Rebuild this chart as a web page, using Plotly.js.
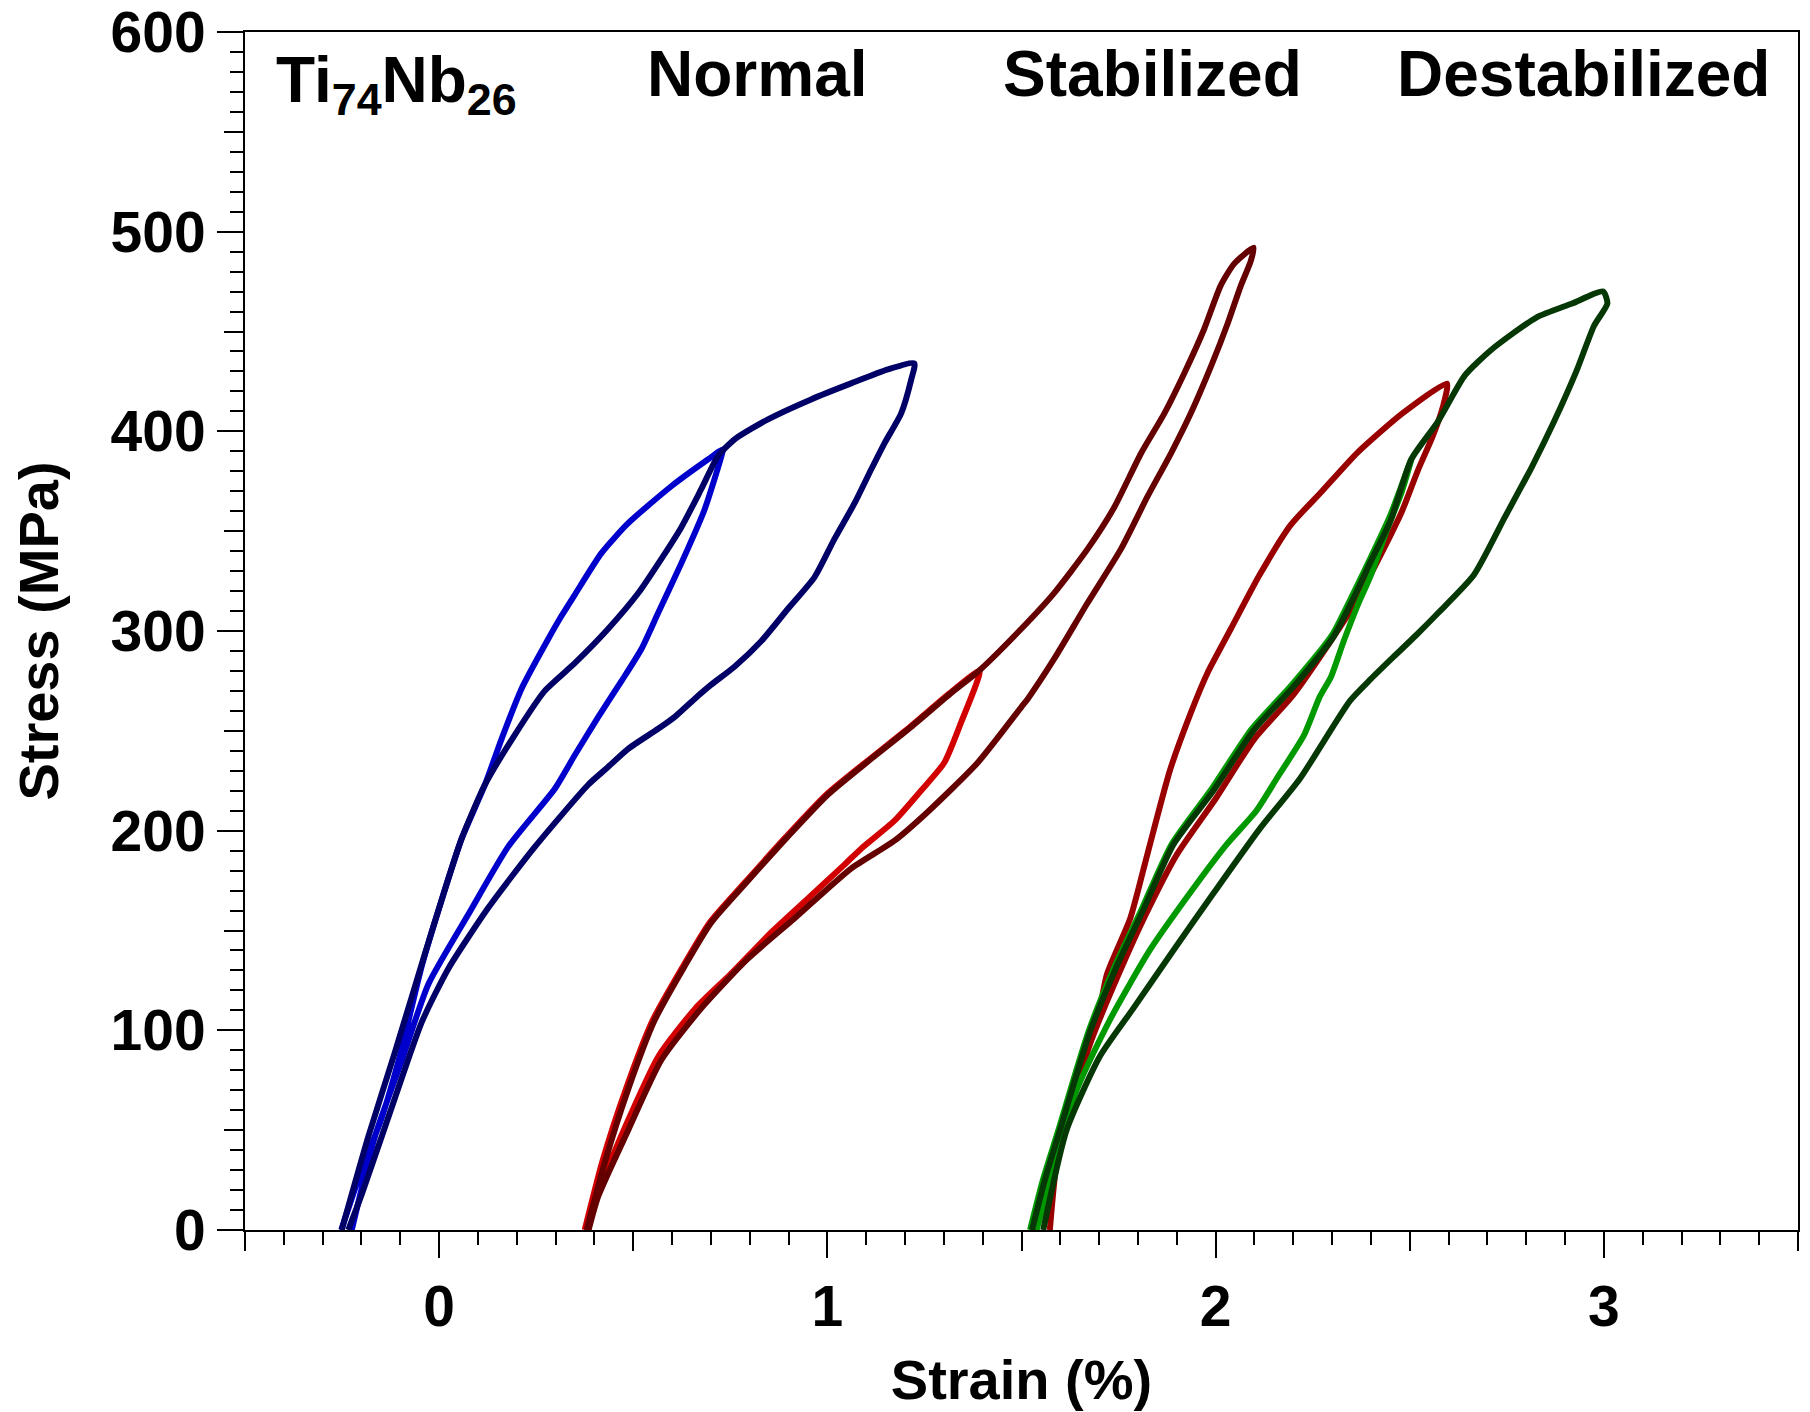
<!DOCTYPE html>
<html>
<head>
<meta charset="utf-8">
<script src="https://cdn.plot.ly/plotly-3.0.1.min.js"></script>
<style>html,body{margin:0;padding:0;background:#fff;}#chart{width:1810px;height:1412px;}</style>
</head>
<body>
<div id="chart"></div>
<script>
// ---- Data (strain %, stress MPa) ----
// Normal, small loop (bright blue)
const normalSmallX = [-0.252,-0.20,-0.15,-0.10,-0.045,0.006,0.058,0.118,0.161,0.212,0.281,0.315,0.349,0.418,0.487,0.598,0.693,0.731,
  0.727,0.684,0.624,0.564,0.521,0.47,0.41,0.35,0.298,0.178,0.075,-0.028,-0.096,-0.165,-0.225];
const normalSmallY = [0,30,55,88,132,165,196,223,246,271,296,307.5,318,339,354,372.5,386,391,
  387.5,361,334,309,291,275,257,238,221,192,158,123,85,47,0];
// Normal, large loop (navy)
const normalLargeX = [-0.251,-0.182,-0.114,-0.045,0.006,0.058,0.118,0.195,0.272,0.35,0.435,0.513,0.572,0.624,0.675,0.718,0.761,0.847,0.958,1.061,1.156,1.224,
  1.216,1.19,1.147,1.113,1.07,1.018,0.967,0.898,0.83,0.76,0.70,0.658,0.607,0.564,0.487,0.43,0.384,0.247,0.127,0.024,-0.045,-0.114,-0.199,-0.234];
const normalLargeY = [0,47,89,133,165,196,223,248,270,284,301,319,336,352,371,387.5,396,406,416,424,431,434,
  426,409,394,381,364,346,327,311,295,282,273,266,257,251,241,231,223,192,161.5,131,104,66,18,0];
// Stabilized, small loop (bright red)
const stabSmallX = [0.375,0.42,0.48,0.55,0.628,0.697,0.792,0.894,0.997,1.11,1.213,1.316,1.392,
  1.344,1.301,1.241,1.173,1.087,1.044,0.95,0.85,0.75,0.66,0.565,0.48,0.405,0.38];
const stabSmallY = [0,34,70,105,132,154,175,197,218,236,252,269,280,
  254,234,220,205,191,183,166,148,128,111,87,52,17,0];
// Stabilized, large loop (dark red)
const stabLargeX = [0.38,0.427,0.487,0.555,0.632,0.701,0.796,0.898,1.001,1.113,1.216,1.319,1.39,1.499,1.584,1.67,1.739,1.808,1.868,1.919,1.97,2.013,2.048,2.098,
  2.09,2.065,2.031,1.988,1.936,1.885,1.825,1.756,1.67,1.584,1.516,1.50,1.387,1.259,1.173,1.061,0.915,0.796,0.675,0.572,0.487,0.41,0.385];
const stabLargeY = [0,34,70.5,105,132,154,175,197,218,236,252,269,280,301,319,341,362,389,409,429,451,473,484,492,
  485,473,454,432.5,409,389,367.5,341,314,286,266,262,234,209.5,195,181,156,136,111,85,50,17,0];
// Destabilized, red loop
const destabRedX = [1.53,1.60,1.66,1.69,1.72,1.78,1.82,1.882,1.936,1.979,2.039,2.113,2.193,2.274,2.366,2.481,2.596,
  2.585,2.56,2.52,2.48,2.43,2.36,2.30,2.20,2.10,2.0,1.90,1.82,1.75,1.68,1.62,1.59,1.573];
const destabRedY = [0,48,88,100,128,156,185,230,259,279,301,328,353,370,389.5,409,424,
  412,398,380,360,340,314,296,268,246,216,188,158,128,95,58,33,0];
// Destabilized, small loop (bright green)
const destabSmallX = [1.522,1.555,1.595,1.672,1.74,1.808,1.886,1.99,2.093,2.196,2.30,2.35,2.40,2.45,2.504,
  2.48,2.44,2.40,2.366,2.33,2.297,2.268,2.228,2.157,2.105,2.028,1.933,1.83,1.727,1.642,1.539];
const destabSmallY = [0,25,50,99,132,160,193,221,251,273,298,317,337,358,386,
  370,350,328,313,295,277,267,248,226,210,193,168.5,140,105,70,0];
// Destabilized, large loop (dark green)
const destabLargeX = [1.527,1.56,1.599,1.676,1.745,1.813,1.891,1.994,2.097,2.2,2.303,2.354,2.40,2.45,2.504,2.573,2.642,2.711,2.826,2.918,2.998,
  3.009,2.975,2.929,2.872,2.814,2.745,2.665,2.573,2.517,2.458,2.40,2.346,2.217,2.114,1.994,1.891,1.788,1.702,1.616,1.556];
const destabLargeY = [0,25,50,99,132,160,193,220,250,272,297,316,335,355,386,405,428,441,457,464,470,
  464,453,430,405,382,357,328,309,298,287,276,265,226,201,168.5,140,111,87,50,0];

// Tick labels / texts
const xTickVals = [0,1,2,3];
const xTickText = ['0','1','2','3'];
const yTickVals = [0,100,200,300,400,500,600];
const yTickText = ['0','100','200','300','400','500','600'];
const xMidTicks = [-0.5,0.5,1.5,2.5,3.5];
const yMidTicks = [50,150,250,350,450,550];
const labels = ['Ti<sub>74</sub>Nb<sub>26</sub>','Normal','Stabilized','Destabilized'];

const FONT = 'Liberation Sans, Arial, sans-serif';
const LW = 6;

function tr(x, y, color, xa, ya) {
  return {x: x, y: y, type: 'scatter', mode: 'lines', xaxis: xa || 'x', yaxis: ya || 'y',
    line: {color: color, width: LW, shape: 'spline', smoothing: 0.6}, hoverinfo: 'skip', showlegend: false};
}

const data = [
  tr(normalSmallX, normalSmallY, '#0000CC'),
  tr(normalLargeX, normalLargeY, '#000066'),
  tr(stabSmallX, stabSmallY, '#D20000'),
  tr(stabLargeX, stabLargeY, '#640000'),
  tr(destabRedX, destabRedY, '#990000'),
  tr(destabSmallX, destabSmallY, '#009900'),
  tr(destabLargeX, destabLargeY, '#053805', 'x2', 'y2')
];

const tickFont = {family: FONT, size: 57, color: '#000', weight: 'bold'};
const titleFont = {family: FONT, size: 56, color: '#000', weight: 'bold'};
const annFont = {family: FONT, size: 64, color: '#000', weight: 'bold'};

const layout = {
  width: 1810, height: 1412,
  margin: {l: 245, r: 12, t: 32, b: 182},
  paper_bgcolor: '#fff', plot_bgcolor: '#fff',
  showlegend: false,
  xaxis: {
    range: [-0.5, 3.5], tickvals: xTickVals, ticktext: xTickText,
    ticks: 'outside', ticklen: 26, tickwidth: 2, tickcolor: '#000',
    showline: true, linewidth: 2, linecolor: '#000', mirror: true,
    showgrid: false, zeroline: false, tickfont: tickFont, ticklabeloverflow: 'allow',
    minor: {dtick: 0.1, tick0: 0, ticks: 'outside', ticklen: 13, tickwidth: 2, tickcolor: '#000', showgrid: false},
    title: {text: 'Strain (%)', font: titleFont, standoff: 22}
  },
  yaxis: {
    range: [0, 600], tickvals: yTickVals, ticktext: yTickText,
    ticks: 'outside', ticklen: 26, tickwidth: 2, tickcolor: '#000',
    showline: true, linewidth: 2, linecolor: '#000', mirror: true,
    showgrid: false, zeroline: false, tickfont: tickFont, ticklabeloverflow: 'allow',
    minor: {dtick: 10, tick0: 0, ticks: 'outside', ticklen: 13, tickwidth: 2, tickcolor: '#000', showgrid: false},
    title: {text: 'Stress (MPa)', font: titleFont, standoff: 34}
  },
  xaxis2: {
    overlaying: 'x', anchor: 'y2', side: 'bottom', range: [-0.5, 3.5],
    tickvals: xMidTicks, ticks: 'outside', ticklen: 20, tickwidth: 2, tickcolor: '#000',
    showticklabels: false, showline: false, showgrid: false, zeroline: false
  },
  yaxis2: {
    overlaying: 'y', anchor: 'x2', side: 'left', range: [0, 600],
    tickvals: yMidTicks, ticks: 'outside', ticklen: 20, tickwidth: 2, tickcolor: '#000',
    showticklabels: false, showline: false, showgrid: false, zeroline: false
  },
  annotations: [
    {text: labels[0], xref: 'paper', yref: 'paper', x: 0.0184, y: 0.957, xanchor: 'left', yanchor: 'middle', showarrow: false, font: annFont},
    {text: labels[1], xref: 'paper', yref: 'paper', x: 0.3303, y: 0.965, xanchor: 'center', yanchor: 'middle', showarrow: false, font: annFont},
    {text: labels[2], xref: 'paper', yref: 'paper', x: 0.5844, y: 0.965, xanchor: 'center', yanchor: 'middle', showarrow: false, font: annFont},
    {text: labels[3], xref: 'paper', yref: 'paper', x: 0.8616, y: 0.965, xanchor: 'center', yanchor: 'middle', showarrow: false, font: annFont}
  ]
};

Plotly.newPlot('chart', data, layout, {staticPlot: true, displayModeBar: false});
</script>
</body>
</html>
